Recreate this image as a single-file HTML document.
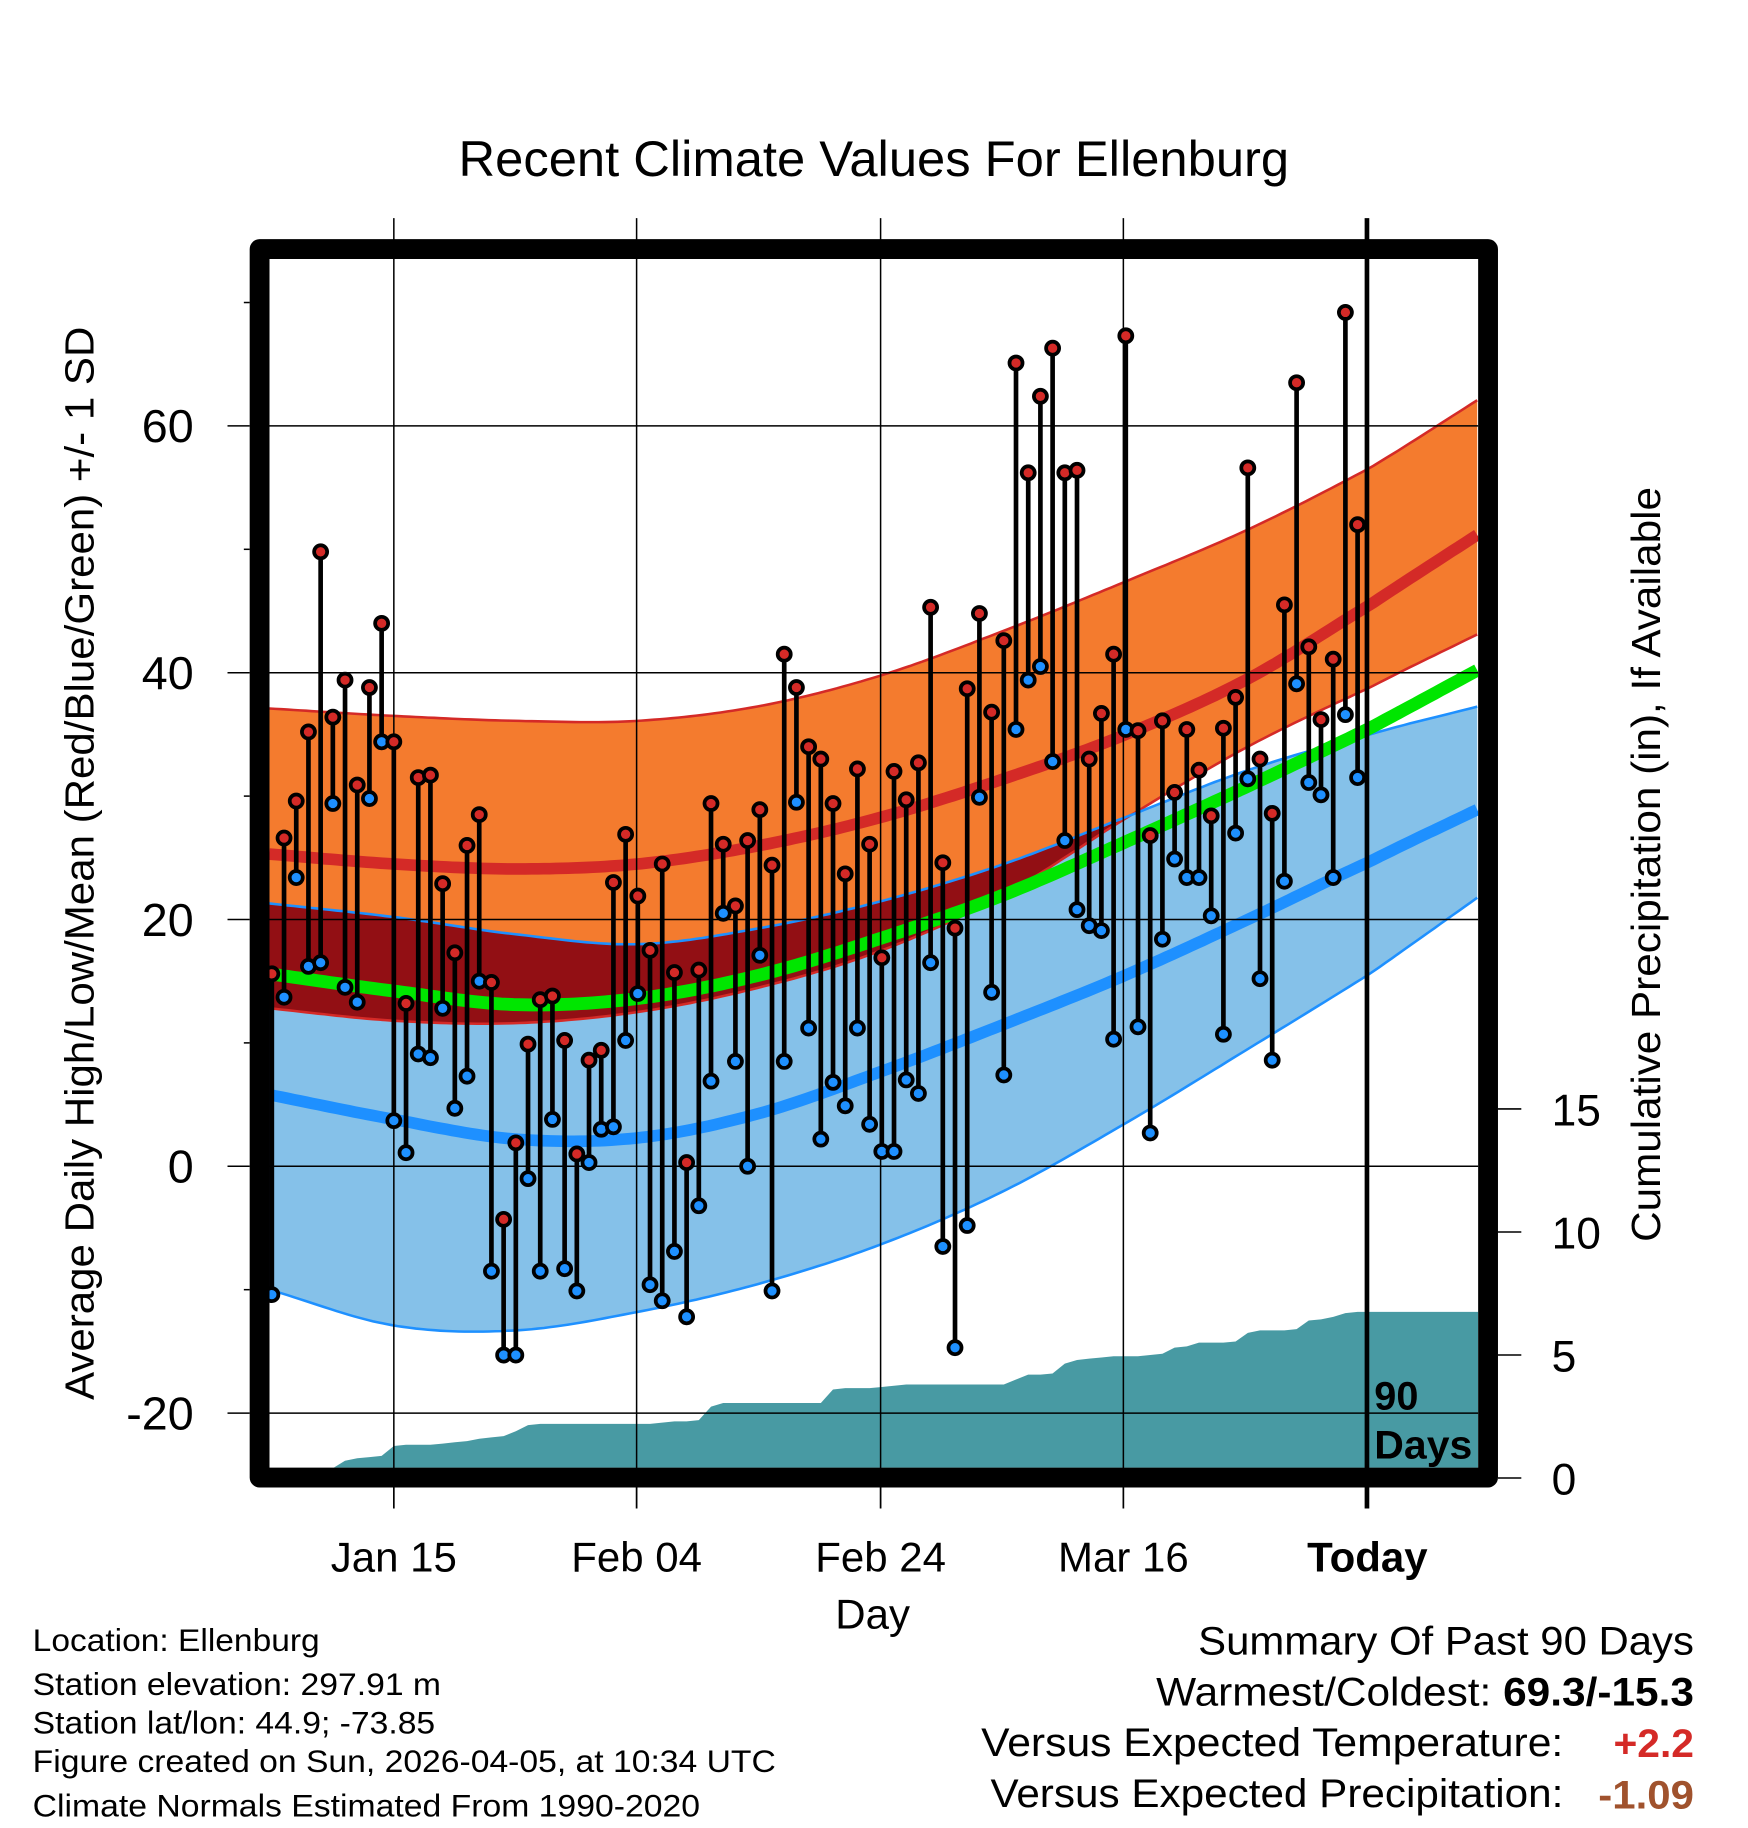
<!DOCTYPE html>
<html><head><meta charset="utf-8"><style>
html,body{margin:0;padding:0;background:#fff;}
svg{display:block;font-family:"Liberation Sans",Arial,sans-serif;}
</style></head><body>
<svg id="chart" width="1748" height="1828" viewBox="0 0 1498.3 1566.9" xmlns="http://www.w3.org/2000/svg">
<defs><clipPath id="plotclip"><rect x="231" y="223" width="1036" height="1035"/></clipPath></defs>
<g id="bands" clip-path="url(#plotclip)"></g>
<g id="grid"></g>
<g id="marks" clip-path="url(#plotclip)"></g>
<rect x="222.5" y="213.5" width="1053" height="1053" fill="none" stroke="#000" stroke-width="17" stroke-linejoin="round"/>
<line x1="1171.7" y1="187" x2="1171.7" y2="1293" stroke="#000" stroke-width="4"/>
<g id="axes"></g>
<text x="749" y="151" font-size="43" text-anchor="middle" textLength="712" lengthAdjust="spacingAndGlyphs">Recent Climate Values For Ellenburg</text>
<text transform="translate(80,740) rotate(-90)" font-size="35" text-anchor="middle" textLength="920" lengthAdjust="spacingAndGlyphs">Average Daily High/Low/Mean (Red/Blue/Green) +/- 1 SD</text>
<text transform="translate(1423,741) rotate(-90)" font-size="35" text-anchor="middle" textLength="647" lengthAdjust="spacingAndGlyphs">Cumulative Precipitation (in), If Available</text>
<text x="748" y="1396" font-size="36" text-anchor="middle">Day</text>
<text x="1178" y="1208" font-size="34" font-weight="bold">90</text>
<text x="1178" y="1250" font-size="34" font-weight="bold" textLength="84" lengthAdjust="spacingAndGlyphs">Days</text>
<g font-size="27" lengthAdjust="spacingAndGlyphs">
<text x="28" y="1415" textLength="246" lengthAdjust="spacingAndGlyphs">Location: Ellenburg</text>
<text x="28" y="1453" textLength="350" lengthAdjust="spacingAndGlyphs">Station elevation: 297.91 m</text>
<text x="28" y="1486" textLength="345" lengthAdjust="spacingAndGlyphs">Station lat/lon: 44.9; -73.85</text>
<text x="28" y="1519" textLength="637" lengthAdjust="spacingAndGlyphs">Figure created on Sun, 2026-04-05, at 10:34 UTC</text>
<text x="28" y="1557" textLength="572" lengthAdjust="spacingAndGlyphs">Climate Normals Estimated From 1990-2020</text>
</g>
<g font-size="34" text-anchor="end">
<text x="1452" y="1418" textLength="425" lengthAdjust="spacingAndGlyphs">Summary Of Past 90 Days</text>
<text x="1452" y="1462" textLength="461" lengthAdjust="spacingAndGlyphs">Warmest/Coldest: <tspan font-weight="bold">69.3/-15.3</tspan></text>
<text x="1340" y="1505" textLength="499" lengthAdjust="spacingAndGlyphs">Versus Expected Temperature:</text>
<text x="1452" y="1506" font-weight="bold" fill="#d42a27" textLength="69" lengthAdjust="spacingAndGlyphs">+2.2</text>
<text x="1340" y="1549" textLength="491" lengthAdjust="spacingAndGlyphs">Versus Expected Precipitation:</text>
<text x="1452" y="1550" font-weight="bold" fill="#a0522d" textLength="82" lengthAdjust="spacingAndGlyphs">-1.09</text>
</g>
</svg>
<script>
const highs = [15.6,26.6,29.6,35.2,49.8,36.4,39.4,30.9,38.8,44.0,34.4,13.2,31.5,31.7,22.9,17.3,26.0,28.5,14.9,-4.3,1.9,9.9,13.5,13.8,10.2,1.0,8.6,9.4,23.0,26.9,21.9,17.5,24.5,15.7,0.3,15.9,29.4,26.1,21.1,26.4,28.9,24.4,41.5,38.8,34.0,33.0,29.4,23.7,32.2,26.1,16.9,32.0,29.7,32.7,45.3,24.6,19.3,38.7,44.8,36.8,42.6,65.1,56.2,62.4,66.3,56.2,56.4,33.0,36.7,41.5,67.3,35.3,26.8,36.1,30.3,35.4,32.1,28.4,35.5,38.0,56.6,33.0,28.6,45.5,63.5,42.1,36.2,41.1,69.2,52.0];
const lows = [-10.4,13.7,23.4,16.2,16.5,29.4,14.5,13.3,29.8,34.4,3.7,1.1,9.1,8.8,12.8,4.7,7.3,15.0,-8.5,-15.3,-15.3,-1.0,-8.5,3.8,-8.3,-10.1,0.3,3.0,3.2,10.2,14.0,-9.6,-10.9,-6.9,-12.2,-3.2,6.9,20.5,8.5,0.0,17.1,-10.1,8.5,29.5,11.2,2.2,6.8,4.9,11.2,3.4,1.2,1.2,7.0,5.9,16.5,-6.5,-14.7,-4.8,29.9,14.1,7.4,35.4,39.4,40.5,32.8,26.4,20.8,19.5,19.1,10.3,35.4,11.3,2.7,18.4,24.9,23.4,23.4,20.3,10.7,27.0,31.4,15.2,8.6,23.1,39.1,31.1,30.1,23.4,36.6,31.5];
const precipCum = [0,0,0,0.1,0.3,0.4,0.7,0.8,0.85,0.9,1.3,1.35,1.35,1.35,1.4,1.45,1.5,1.6,1.65,1.7,1.9,2.15,2.2,2.2,2.2,2.2,2.2,2.2,2.2,2.2,2.2,2.2,2.25,2.3,2.3,2.35,2.9,3.05,3.05,3.05,3.05,3.05,3.05,3.05,3.05,3.05,3.6,3.65,3.65,3.65,3.7,3.75,3.8,3.8,3.8,3.8,3.8,3.8,3.8,3.8,3.8,4.0,4.2,4.2,4.25,4.65,4.8,4.85,4.9,4.95,4.95,4.95,5.0,5.05,5.3,5.35,5.5,5.5,5.5,5.55,5.9,6.0,6.0,6.0,6.05,6.4,6.45,6.55,6.7,6.75];
const normDays = [-0.2,10,20,30,40,50,60,70,80,90,99];
const highMean = [25.3,24.5,24.1,24.5,26.0,28.3,31.4,35.0,39.5,45.5,51.3];
const highUpper = [37.1,36.5,36.1,36.1,37.3,39.8,43.4,47.4,51.6,56.6,62.2];
const highLower = [12.8,11.8,11.6,12.5,14.5,17.5,22.0,28.2,34.0,38.8,43.2];
const avgMean = [15.6,14.2,13.1,13.6,15.5,18.5,22.0,26.3,30.8,35.5,40.3];
const lowMean = [5.8,3.8,2.2,2.3,4.3,7.7,11.5,15.5,20.0,24.7,29.0];
const lowUpper = [21.3,20.2,18.8,18.0,19.3,21.5,24.5,28.3,32.1,35.0,37.3];
const lowLower = [-10.0,-12.9,-13.3,-11.8,-9.5,-6.3,-2.0,3.5,9.5,15.6,21.9];
const yTicks = [-20,0,20,40,60];
const pTicks = [0,5,10,15];
const xTickDays = [10,29.9,49.9,69.8,89.8];
const xTickLabels = ["Jan 15","Feb 04","Feb 24","Mar 16","Today"];

const NS="http://www.w3.org/2000/svg";
function X(d){return 233+10.457*d;}
function Y(v){return 999.7-10.577*v;}
function P(p){return 1266.9-21.09*p;}
function mk(tag,attrs,parent){const e=document.createElementNS(NS,tag);for(const k in attrs)e.setAttribute(k,attrs[k]);parent.appendChild(e);return e;}
function interp(arr,d){
  const n=normDays.length;
  let i=0;while(i<n-2&&d>normDays[i+1])i++;
  const t=(d-normDays[i])/(normDays[i+1]-normDays[i]);
  const p1=arr[i],p2=arr[i+1];
  const p0=i>0?arr[i-1]:2*p1-p2;
  const p3=i+2<n?arr[i+2]:2*p2-p1;
  return 0.5*((2*p1)+(-p0+p2)*t+(2*p0-5*p1+4*p2-p3)*t*t+(-p0+3*p1-3*p2+p3)*t*t*t);
}
const ds=[];for(let d=normDays[0];d<=normDays[normDays.length-1]+0.001;d+=0.5)ds.push(d);
function linePts(fn){return ds.map(d=>X(d).toFixed(1)+","+Y(fn(d)).toFixed(1));}
function bandPts(fTop,fBot){const a=linePts(fTop);const b=linePts(fBot).reverse();return a.concat(b).join(" ");}
const bands=document.getElementById('bands');
let e;
e=mk('polygon',{points:bandPts(d=>interp(lowUpper,d),d=>interp(lowLower,d)),fill:'#85c1e9'},bands);


e=mk('polygon',{points:bandPts(d=>interp(highUpper,d),d=>interp(highLower,d)),fill:'#f47b2e'},bands);


const ovTop=d=>Math.min(interp(highUpper,d),interp(lowUpper,d));
const ovBot=d=>Math.min(ovTop(d),Math.max(interp(highLower,d),interp(lowLower,d)));
e=mk('polygon',{points:bandPts(ovTop,ovBot),fill:'#920f14'},bands);


function poly(arr,color,w,name){
  const el=mk('polyline',{points:linePts(d=>interp(arr,d)).join(" "),fill:'none',stroke:color,'stroke-width':w},bands);
  
  
}
poly(highUpper,'#d42a27',2.2,'high-upper-line');
poly(highLower,'#d42a27',2.2,'high-lower-line');
poly(lowUpper,'#1e90ff',2.2,'low-upper-line');
poly(lowLower,'#1e90ff',2.2,'low-lower-line');
poly(highMean,'#d42a27',10,'mean-high-line');
poly(avgMean,'#00e600',11,'mean-temp-line');
poly(lowMean,'#1e90ff',10,'mean-low-line');
let pp=[];
pp.push(X(-0.3).toFixed(1)+","+P(0));
precipCum.forEach((v,i)=>pp.push(X(i).toFixed(1)+","+P(v).toFixed(1)));
pp.push("1267,"+P(precipCum[precipCum.length-1]).toFixed(1));
pp.push("1267,"+P(0));
e=mk('polygon',{points:pp.join(" "),fill:'#489aa3'},bands);



const grid=document.getElementById('grid');
yTicks.forEach(v=>{
  const g=mk('line',{x1:231,x2:1267,y1:Y(v),y2:Y(v),stroke:'#000','stroke-width':1.3},grid);
  
  
});
xTickDays.slice(0,4).forEach(d=>{
  const g=mk('line',{x1:X(d),x2:X(d),y1:187,y2:1293,stroke:'#000','stroke-width':1.3},grid);
  
  
});

const marks=document.getElementById('marks');
highs.forEach((h,i)=>{
  const s=mk('line',{x1:X(i),x2:X(i),y1:Y(h),y2:Y(lows[i]),stroke:'#000','stroke-width':4},marks);
  
  
});
highs.forEach((h,i)=>{
  const c1=mk('circle',{cx:X(i),cy:Y(lows[i]),r:5.6,fill:'#1e90ff',stroke:'#000','stroke-width':3.2},marks);
  
  
  const c2=mk('circle',{cx:X(i),cy:Y(h),r:5.6,fill:'#d42a27',stroke:'#000','stroke-width':3.2},marks);
  
  
});

const axes=document.getElementById('axes');
for(let v=-20;v<=70;v+=10){
  const major=(v%20===0);
  const t=mk('line',{x1:major?195:209,x2:214,y1:Y(v),y2:Y(v),stroke:'#000','stroke-width':1.3},axes);
  
  
}
yTicks.forEach(v=>{
  const t=mk('text',{x:166,y:Y(v)+14,'font-size':40,'text-anchor':'end'},axes);
  t.textContent=String(v);
  
  
});
pTicks.forEach(p=>{
  const t=mk('line',{x1:1284,x2:1304,y1:P(p),y2:P(p),stroke:'#000','stroke-width':1.3},axes);
  
  
  const l=mk('text',{x:1330,y:P(p)+14,'font-size':38},axes);
  l.textContent=String(p);
  
  
});
xTickDays.forEach((d,i)=>{
  const t=mk('line',{x1:X(d),x2:X(d),y1:1275,y2:1293,stroke:'#000','stroke-width':1.3},axes);
  
  
  const l=mk('text',{x:X(d),y:1347,'font-size':36,'text-anchor':'middle'},axes);
  if(i===4)l.setAttribute('font-weight','bold');
  l.textContent=xTickLabels[i];
  
  
});
</script>
</body></html>
